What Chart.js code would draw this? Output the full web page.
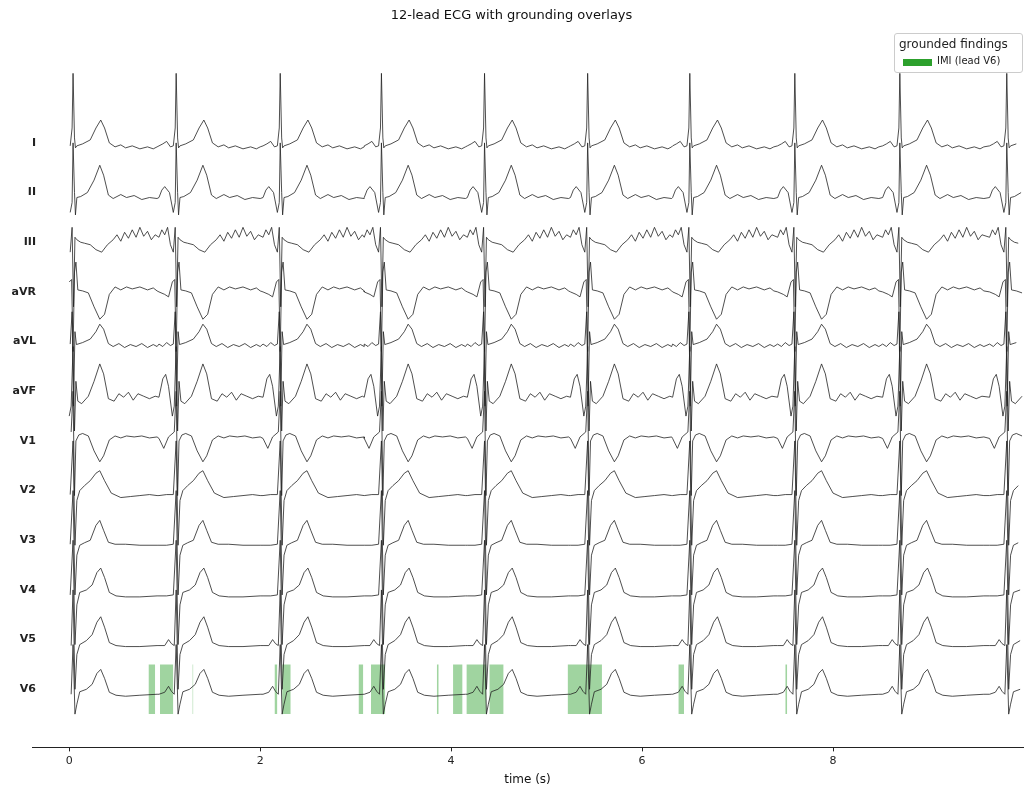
<!DOCTYPE html>
<html><head><meta charset="utf-8">
<script src="https://cdn.jsdelivr.net/npm/chart.js@4"></script>
<style>
body{margin:0;background:#fff;font-family:"DejaVu Sans",sans-serif}
#wrap{position:relative;width:1033px;height:798px}
#leg{position:absolute;left:894px;top:33px;width:127px;height:38px;border:1px solid #ccc;border-radius:3px;background:rgba(255,255,255,0.85);font-size:12px;color:#222}
#leg .t{position:absolute;left:4px;top:3px}
#leg .s{position:absolute;left:8px;top:25px;width:29px;height:7px;background:#2ca02c}
#leg .l{position:absolute;left:42px;top:21px;font-size:10px}
</style></head><body>
<div id="wrap"><canvas id="c" width="1033" height="798"></canvas>
<div id="leg"><span class="t">grounded findings</span><span class="s"></span><span class="l">IMI (lead V6)</span></div></div>
<script>
const leads = ["I","II","III","aVR","aVL","aVF","V1","V2","V3","V4","V5","V6"];
const beatTimes = [0.04,1.12,2.21,3.27,4.35,5.43,6.50,7.60,8.70,9.82];
const xTicks = [0,2,4,6,8];
const spanStarts = [0.83,0.95,1.29,2.15,2.23,3.03,3.16,3.85,4.02,4.16,4.40,5.22,6.38,7.50];
const spanEnds   = [0.90,1.09,1.30,2.18,2.32,3.08,3.31,3.87,4.12,4.37,4.55,5.58,6.44,7.52];
const beat_I = [[-0.18,-0.06],[-0.14,-0.02],[-0.10,0.03],[-0.06,-0.08],[-0.03,-0.06],[-0.01,0.3],[0.0,1.4],[0.015,0.1],[0.025,-0.1],[0.04,-0.06],[0.1,-0.02],[0.18,0.06],[0.24,0.3],[0.29,0.46],[0.33,0.3],[0.38,0.0],[0.44,-0.08],[0.5,-0.04],[0.55,-0.1],[0.62,-0.06],[0.7,-0.12],[0.78,-0.08],[0.84,-0.12],[0.88,-0.08]];
const beat_II = [[-0.18,-0.1],[-0.15,0.05],[-0.12,0.12],[-0.07,0.0],[-0.03,-0.4],[-0.01,-0.2],[0.0,1.0],[0.015,0.0],[0.025,-0.45],[0.04,-0.1],[0.08,-0.08],[0.15,0.0],[0.22,0.25],[0.28,0.55],[0.32,0.35],[0.37,-0.05],[0.42,-0.12],[0.5,-0.04],[0.56,-0.1],[0.64,-0.06],[0.72,-0.14],[0.8,-0.1],[0.88,-0.12]];
const beat_III = [[-0.18,0.1],[-0.15,0.25],[-0.12,0.15],[-0.09,0.3],[-0.06,-0.05],[-0.03,-0.2],[-0.01,0.3],[0.005,-1.3],[0.02,0.1],[0.04,0.05],[0.08,0.0],[0.12,-0.02],[0.18,-0.05],[0.24,-0.15],[0.3,-0.2],[0.36,-0.05],[0.42,0.05],[0.46,0.15],[0.5,0.02],[0.54,0.2],[0.58,0.08],[0.62,0.25],[0.66,0.1],[0.7,0.3],[0.74,0.12],[0.78,0.22],[0.82,0.05],[0.86,0.15]];
const beat_aVR = [[-0.18,0.0],[-0.12,-0.05],[-0.08,-0.1],[-0.04,0.2],[-0.015,0.25],[0.0,-1.2],[0.015,0.4],[0.03,0.6],[0.05,0.04],[0.1,0.02],[0.16,-0.02],[0.22,-0.3],[0.28,-0.55],[0.33,-0.45],[0.38,-0.05],[0.44,0.1],[0.5,0.04],[0.56,0.1],[0.62,0.06],[0.7,0.1],[0.78,0.04],[0.84,0.08],[0.88,0.02]];
const beat_aVL = [[-0.18,-0.05],[-0.14,-0.1],[-0.1,-0.02],[-0.06,-0.08],[-0.03,-0.05],[-0.01,0.6],[0.005,-1.3],[0.02,0.2],[0.035,-0.06],[0.1,-0.02],[0.18,0.05],[0.24,0.2],[0.28,0.35],[0.32,0.25],[0.37,-0.04],[0.42,-0.1],[0.48,-0.04],[0.54,-0.12],[0.6,-0.06],[0.66,-0.1],[0.72,-0.04],[0.78,-0.12],[0.84,-0.06],[0.88,-0.1]];
const beat_aVF = [[-0.18,-0.12],[-0.14,0.25],[-0.11,0.34],[-0.08,0.1],[-0.04,-0.5],[-0.02,-0.3],[0.0,0.9],[0.015,-0.8],[0.03,0.2],[0.05,-0.2],[0.09,-0.25],[0.16,-0.1],[0.22,0.2],[0.28,0.55],[0.32,0.35],[0.37,-0.15],[0.43,-0.2],[0.48,-0.05],[0.53,-0.12],[0.58,-0.02],[0.63,-0.18],[0.68,-0.05],[0.74,-0.1],[0.8,-0.15],[0.86,-0.1]];
const beat_V1 = [[-0.18,0.05],[-0.13,-0.15],[-0.08,0.08],[-0.02,0.18],[0.0,1.0],[0.015,-1.1],[0.03,0.0],[0.06,0.12],[0.1,0.15],[0.16,0.1],[0.22,-0.2],[0.28,-0.42],[0.32,-0.3],[0.38,0.02],[0.44,0.1],[0.5,0.06],[0.56,0.1],[0.64,0.08],[0.72,0.1],[0.8,0.06],[0.88,0.08]];
const beat_V2 = [[-0.18,-0.1],[-0.1,-0.08],[-0.03,-0.08],[0.0,1.0],[0.02,-1.1],[0.04,-0.2],[0.07,0.0],[0.12,0.1],[0.18,0.2],[0.24,0.35],[0.28,0.4],[0.33,0.2],[0.4,-0.05],[0.5,-0.14],[0.6,-0.12],[0.7,-0.1],[0.8,-0.08],[0.88,-0.1]];
const beat_V3 = [[-0.18,-0.1],[-0.1,-0.1],[-0.03,-0.08],[0.0,1.0],[0.02,-1.1],[0.04,-0.3],[0.07,-0.1],[0.12,-0.05],[0.18,0.0],[0.24,0.3],[0.28,0.4],[0.32,0.2],[0.37,-0.04],[0.44,-0.08],[0.55,-0.08],[0.7,-0.1],[0.88,-0.1]];
const beat_V4 = [[-0.18,-0.12],[-0.1,-0.12],[-0.03,-0.1],[0,1.0],[0.02,-1.1],[0.04,-0.3],[0.07,-0.05],[0.14,0.0],[0.2,0.1],[0.25,0.35],[0.29,0.44],[0.33,0.25],[0.38,-0.05],[0.45,-0.12],[0.55,-0.14],[0.7,-0.14],[0.88,-0.12]];
const beat_V5 = [[-0.18,-0.12],[-0.12,-0.12],[-0.08,0.0],[-0.05,-0.08],[-0.02,-0.12],[0,1.0],[0.02,-1.0],[0.04,-0.3],[0.07,-0.1],[0.14,-0.02],[0.2,0.1],[0.25,0.35],[0.29,0.46],[0.33,0.25],[0.38,-0.06],[0.45,-0.12],[0.55,-0.14],[0.7,-0.14],[0.88,-0.12]];
const beat_V6 = [[-0.18,-0.1],[-0.12,-0.06],[-0.08,0.06],[-0.05,-0.04],[-0.02,-0.1],[0,0.9],[0.02,-0.5],[0.04,-0.3],[0.07,-0.05],[0.14,0.0],[0.2,0.1],[0.25,0.32],[0.29,0.4],[0.33,0.22],[0.38,-0.06],[0.45,-0.12],[0.55,-0.14],[0.7,-0.12],[0.88,-0.1]];
const beats = [beat_I,beat_II,beat_III,beat_aVR,beat_aVL,beat_aVF,beat_V1,beat_V2,beat_V3,beat_V4,beat_V5,beat_V6];
const tStart = 0, tEnd = 9.99;

const datasets = [];
spanStarts.forEach((a,k)=>{
  datasets.push({data:[{x:a,y:-11.5},{x:spanEnds[k],y:-11.5}],borderWidth:0,pointRadius:0,
    backgroundColor:'rgba(44,160,44,0.45)',fill:{value:-10.5},order:2});
});
leads.forEach((name,i)=>{
  const pts=[];
  beatTimes.forEach(bt=>{
    beats[i].forEach(([dt,v])=>{const t=bt+dt; if(t>=tStart&&t<=tEnd) pts.push({x:t,y:-i+v});});
  });
  datasets.push({label:name,data:pts,borderColor:'#222',borderWidth:0.8,pointRadius:0,fill:false,tension:0,order:1});
});

const leadLabels = {id:'leadLabels',afterDraw(chart){
  const c=chart.ctx, ys=chart.scales.y;
  c.save(); c.font='bold 11px "DejaVu Sans"'; c.fillStyle='#222'; c.textAlign='right'; c.textBaseline='middle';
  leads.forEach((n,i)=>c.fillText(n,36,ys.getPixelForValue(-i)));
  c.restore();
}};

new Chart(document.getElementById('c'),{
  type:'line',
  data:{datasets},
  plugins:[leadLabels],
  options:{
    responsive:false,animation:false,
    layout:{padding:{left:0,right:10,top:0,bottom:7}},
    plugins:{legend:{display:false},tooltip:{enabled:false},
      title:{display:true,text:'12-lead ECG with grounding overlays',color:'#111',font:{family:'DejaVu Sans',size:13,weight:'normal'},padding:{top:8,bottom:12}}},
    scales:{
      x:{type:'linear',min:-0.39,max:9.99,
        afterBuildTicks:a=>{a.ticks=xTicks.map(v=>({value:v}));},
        grid:{display:true,drawOnChartArea:false,drawTicks:true,tickLength:4,tickColor:'#222'},
        border:{display:true,color:'#222',width:1},
        ticks:{color:'#222',font:{family:'DejaVu Sans',size:11},padding:3},
        title:{display:true,text:'time (s)',color:'#111',font:{family:'DejaVu Sans',size:12},padding:{top:2,bottom:4}}},
      y:{type:'linear',min:-12.17,max:2.16,
        afterBuildTicks:a=>{a.ticks=leads.map((n,i)=>({value:-i}));},
        afterFit:a=>{a.width=32;},
        grid:{display:false},border:{display:false},
        ticks:{display:false}}
    }
  }
});
</script></body></html>
